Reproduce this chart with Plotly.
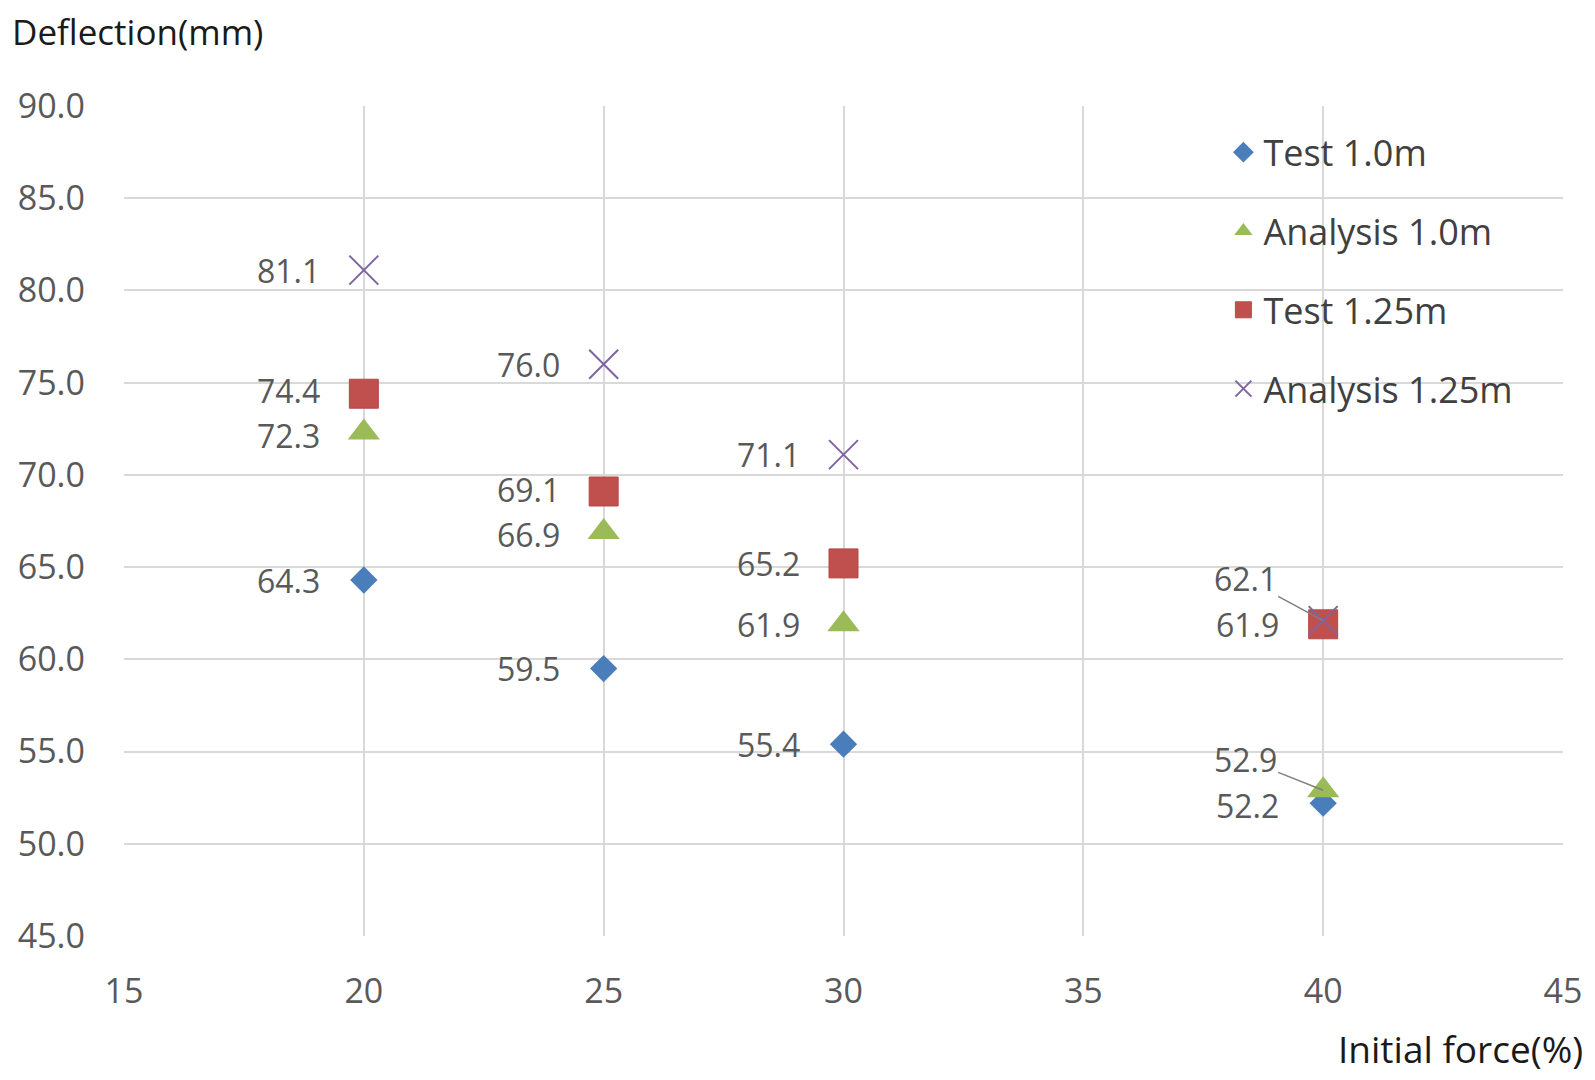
import plotly.graph_objects as go

force = [20, 25, 30, 40]
test_10 = [64.3, 59.5, 55.4, 52.2]
analysis_10 = [72.3, 66.9, 61.9, 52.9]
test_125 = [74.4, 69.1, 65.2, 61.9]
analysis_125 = [81.1, 76.0, 71.1, 62.1]

series = [
    ("Test 1.0m", test_10, dict(symbol="diamond", size=21, color="#4A7EBB")),
    ("Analysis 1.0m", analysis_10, dict(symbol="triangle-up", size=28, color="#9BBB59")),
    ("Test 1.25m", test_125, dict(symbol="square", size=29, color="#C0504D",
                                   line=dict(color="#B44A47", width=1))),
    ("Analysis 1.25m", analysis_125, dict(symbol="x-thin-open", size=29, color="#8064A2",
                                          line=dict(color="#8064A2", width=2))),
]

FONT = "Open Sans"
TICK_COLOR = "#595959"
W, H = 1587, 1072
L, R, T, B = 116, 32, 98, 144
PW, PH = W - L - R, H - T - B

fig = go.Figure()
for i, (name, ys, mk) in enumerate(series):
    fig.add_trace(go.Scatter(x=force, y=ys, mode="markers", name=name,
                             marker=mk, legendgroup=f"g{i}"))

# data labels (small vertical nudges keep crowded labels apart)
leader = {("Analysis 1.0m", 40): -31, ("Analysis 1.25m", 40): -42}
nudge = {("Test 1.25m", 20): 3, ("Analysis 1.0m", 20): -3,
         ("Test 1.25m", 25): 2, ("Analysis 1.0m", 25): -2,
         ("Test 1.0m", 40): -2}
for name, ys, mk in series:
    for x, y in zip(force, ys):
        key = (name, x)
        if key in leader:
            fig.add_annotation(x=x, y=y, text=f"{y:.1f}", showarrow=True,
                               arrowhead=0, arrowwidth=1.5, arrowcolor="#7f7f7f",
                               ax=-78, ay=leader[key], standoff=0,
                               font=dict(size=32, color=TICK_COLOR, family=FONT))
        else:
            fig.add_annotation(x=x, y=y, text=f"{y:.1f}", showarrow=False,
                               xanchor="right", yanchor="middle", xshift=-42,
                               yshift=nudge.get(key, 0),
                               font=dict(size=32, color=TICK_COLOR, family=FONT))

# axis titles
fig.add_annotation(text="Deflection(mm)", xref="paper", yref="paper",
                   x=(2 - L) / PW, y=1 + (T - 24) / PH,
                   xanchor="left", yanchor="middle", showarrow=False,
                   font=dict(size=35, color="#1a1a1a", family=FONT))
fig.add_annotation(text="Initial force(%)", xref="paper", yref="paper",
                   x=1 + 22 / PW, y=-(1040 - (H - B)) / PH,
                   xanchor="right", yanchor="middle", showarrow=False,
                   font=dict(size=37, color="#1a1a1a", family=FONT))

fig.update_layout(
    width=W, height=H,
    margin=dict(l=L, r=R, t=T, b=B, autoexpand=False),
    plot_bgcolor="white", paper_bgcolor="white",
    font=dict(family=FONT, color=TICK_COLOR),
    showlegend=True,
    legend=dict(x=0.764, y=0.99 - 8 / PH, xanchor="left", yanchor="top",
                font=dict(size=36, color="#404040", family=FONT),
                tracegroupgap=29, bgcolor="rgba(0,0,0,0)"),
    xaxis=dict(range=[15, 45], dtick=5, tick0=15, showgrid=True, automargin=False,
               gridcolor="#D9D9D9", gridwidth=2, zeroline=False, showline=False,
               ticks="", ticklabelstandoff=32,
               tickfont=dict(size=34, color=TICK_COLOR, family=FONT)),
    yaxis=dict(range=[45, 90], dtick=5, tick0=45, showgrid=True, automargin=False,
               gridcolor="#D9D9D9", gridwidth=2, zeroline=False, showline=False,
               ticks="", tickformat=".1f", ticklabelstandoff=38,
               tickfont=dict(size=34, color=TICK_COLOR, family=FONT)),
)

fig.write_html("out.html")
